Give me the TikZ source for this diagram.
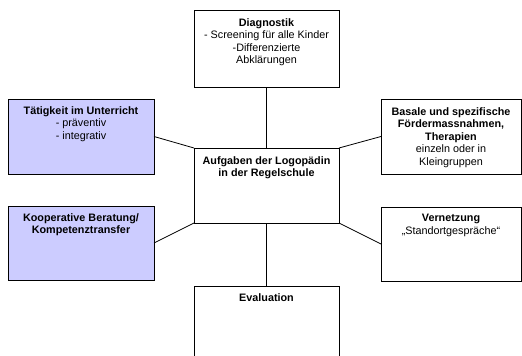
\documentclass[tikz,border=0pt]{standalone}
\usepackage{fontspec}
\setmainfont{Liberation Sans}
\usepackage{tikz}
\definecolor{boxblue}{RGB}{204,204,255}

\begin{document}
\begin{tikzpicture}[x=1pt, y=-1pt,
  box/.style={draw, rectangle, line width=0.8pt, inner sep=0pt, outer sep=0pt},
  txt/.style={anchor=north, inner sep=0pt, align=center, font=\fontsize{10.8}{12.6}\selectfont}]
\useasboundingbox (0,0) rectangle (522,356);

\node[box, minimum width=145pt, minimum height=77pt](B_diag) at (266.5,48.5) {};
\node[box, minimum width=145pt, minimum height=75pt](B_mid) at (266.5,185.5) {};
\node[box, minimum width=145pt, minimum height=84pt](B_eval) at (266.5,328) {};
\node[box, fill=boxblue, minimum width=146pt, minimum height=75pt](B_tat) at (81,136.5) {};
\node[box, fill=boxblue, minimum width=146pt, minimum height=74pt](B_koop) at (81,243) {};
\node[box, minimum width=140pt, minimum height=75pt](B_bas) at (451,136.5) {};
\node[box, minimum width=140pt, minimum height=74pt](B_vern) at (451,244) {};

\node[txt](T_diag) at ([yshift=-8pt]B_diag.north) {\textbf{Diagnostik}\\- Screening für alle Kinder\\-Differenzierte\\Abklärungen};
\node[txt](T_mid) at ([yshift=-8pt]B_mid.north) {\textbf{Aufgaben der Logopädin}\\\textbf{in der Regelschule}};
\node[txt](T_eval) at ([yshift=-7pt]B_eval.north) {\textbf{Evaluation}};
\node[txt](T_tat) at ([yshift=-7pt]B_tat.north) {\textbf{Tätigkeit im Unterricht}\\- präventiv\\- integrativ};
\node[txt](T_koop) at ([yshift=-7pt]B_koop.north) {\textbf{Kooperative Beratung/}\\\textbf{Kompetenztransfer}};
\node[txt](T_bas) at ([yshift=-8pt]B_bas.north) {\textbf{Basale und spezifische}\\\textbf{Fördermassnahmen,}\\\textbf{Therapien}\\einzeln oder in\\Kleingruppen};
\node[txt](T_vern) at ([yshift=-7pt]B_vern.north) {\textbf{Vernetzung}\\„Standortgespräche“};

\draw[-, line width=0.8pt](B_diag) to (B_mid);
\draw[-, line width=0.8pt](B_mid) to (B_eval);
\draw[-, line width=0.8pt](B_tat.east) to (B_mid.north west);
\draw[-, line width=0.8pt](B_bas.west) to (B_mid.north east);
\draw[-, line width=0.8pt](B_koop.east) to (B_mid.south west);
\draw[-, line width=0.8pt](B_vern.west) to (B_mid.south east);
\end{tikzpicture}
\end{document}
